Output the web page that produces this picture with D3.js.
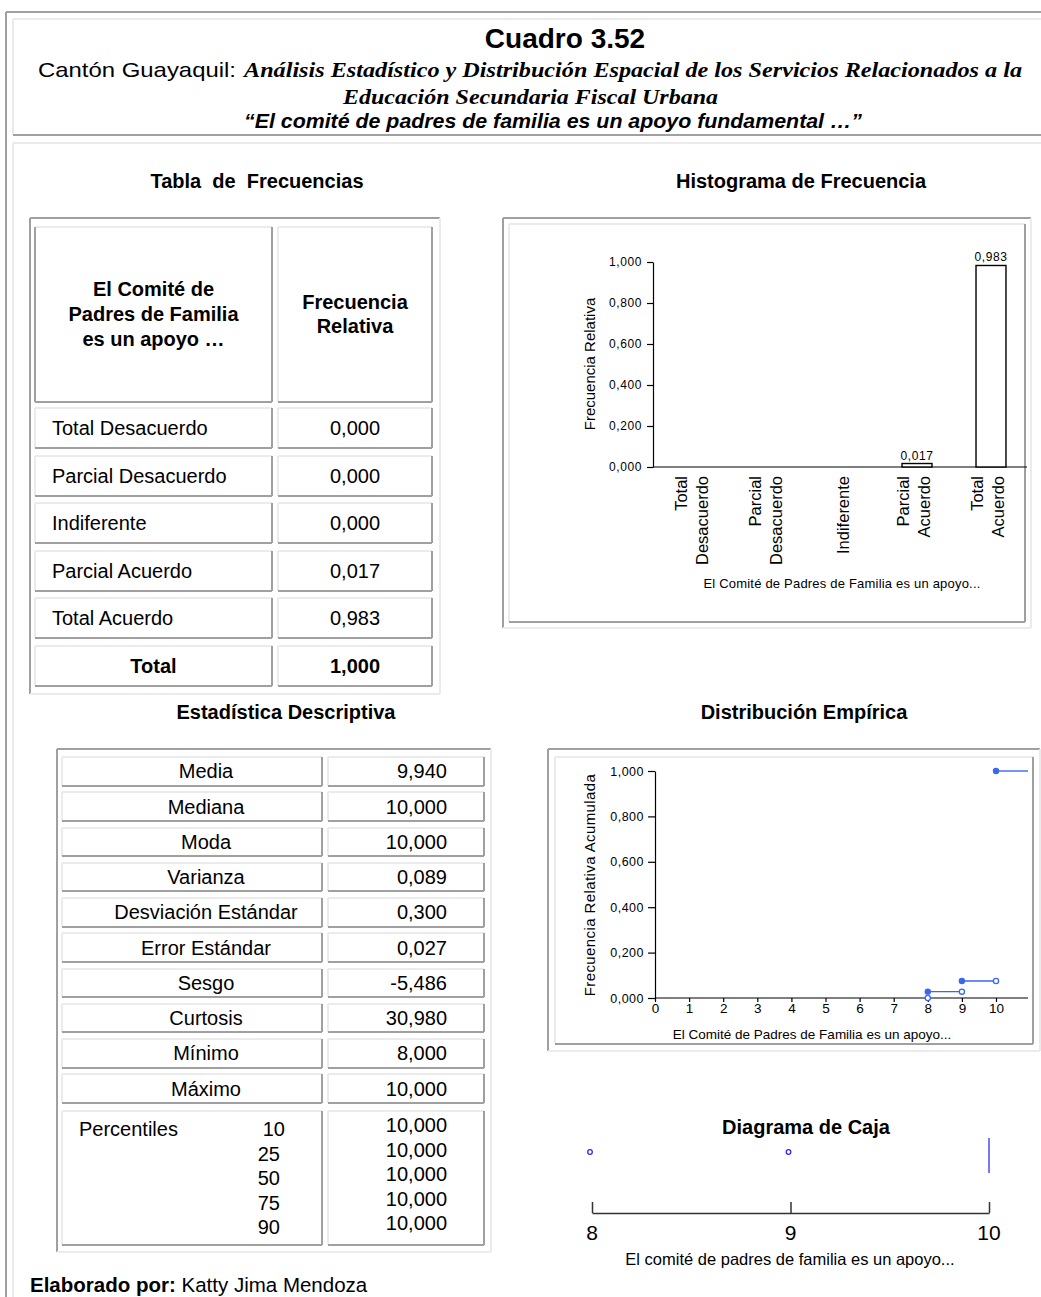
<!DOCTYPE html>
<html>
<head>
<meta charset="utf-8">
<script src="https://cdn.jsdelivr.net/npm/d3@7"></script>
<style>
  body { margin: 0; background: #fff; }
  svg { display: block; }
  text { font-family: "Liberation Sans", Arial, sans-serif; fill: #000; }
</style>
</head>
<body>
<div class="chart"></div>
<script>
// ---- data ----
const categories = ['Total Desacuerdo', 'Parcial Desacuerdo', 'Indiferente', 'Parcial Acuerdo', 'Total Acuerdo'];
const categoryLines = [['Total', 'Desacuerdo'], ['Parcial', 'Desacuerdo'], ['Indiferente'], ['Parcial', 'Acuerdo'], ['Total', 'Acuerdo']];
const relFreq = [0.000, 0.000, 0.000, 0.017, 0.983];
const relFreqTotal = 1.000;
const histTicks = [0, 0.2, 0.4, 0.6, 0.8, 1.0];

const statNames = ['Media', 'Mediana', 'Moda', 'Varianza', 'Desviación Estándar', 'Error Estándar', 'Sesgo', 'Curtosis', 'Mínimo', 'Máximo'];
const statValues = [9.940, 10.000, 10.000, 0.089, 0.300, 0.027, -5.486, 30.980, 8.000, 10.000];
const percentiles = [10, 25, 50, 75, 90];
const percentileValues = [10.000, 10.000, 10.000, 10.000, 10.000];

const ecdfX = [8, 9, 10];
const ecdfY = [0.028, 0.075, 1.000];
const ecdfTicksX = [0, 1, 2, 3, 4, 5, 6, 7, 8, 9, 10];
const ecdfTicksY = [0, 0.2, 0.4, 0.6, 0.8, 1.0];

const boxOutliers = [8, 9];
const boxQuartiles = [10, 10, 10]; // Q1, mediana, Q3
const boxTicks = [8, 9, 10];

// ---- setup ----
const W = 1041, H = 1297;
const GRAY = '#a0a0a0', LIGHT = '#ebebeb';
const BLUE = '#3a66f0';
const SERIF = '"Liberation Serif", "Times New Roman", serif';

const locale = d3.formatLocale({ decimal: ',', thousands: '.', grouping: [3], currency: ['$', ''], minus: '-' });
const fmt = locale.format('.3f');

const svg = d3.select('.chart').append('svg')
  .attr('width', W)
  .attr('height', H);

function bevel(g, x, y, w, h, tl, br, sw) {
  const b = g.append('g').attr('shape-rendering', 'crispEdges').attr('stroke-width', sw);
  b.append('line').attr('x1', x).attr('y1', y).attr('x2', x + w).attr('y2', y).attr('stroke', tl);
  b.append('line').attr('x1', x).attr('y1', y).attr('x2', x).attr('y2', y + h).attr('stroke', tl);
  b.append('line').attr('x1', x).attr('y1', y + h).attr('x2', x + w).attr('y2', y + h).attr('stroke', br);
  b.append('line').attr('x1', x + w).attr('y1', y).attr('x2', x + w).attr('y2', y + h).attr('stroke', br);
}

// ---- page frame ----
const frame = svg.append('g').attr('shape-rendering', 'crispEdges');
frame.append('line').attr('x1', 6).attr('y1', 12).attr('x2', W).attr('y2', 12).attr('stroke', GRAY).attr('stroke-width', 2);
frame.append('line').attr('x1', 6).attr('y1', 12).attr('x2', 6).attr('y2', H).attr('stroke', GRAY).attr('stroke-width', 2);
frame.append('line').attr('x1', 13).attr('y1', 19).attr('x2', W).attr('y2', 19).attr('stroke', LIGHT).attr('stroke-width', 2);
frame.append('line').attr('x1', 13).attr('y1', 19).attr('x2', 13).attr('y2', 135).attr('stroke', LIGHT).attr('stroke-width', 2);
frame.append('line').attr('x1', 13).attr('y1', 135).attr('x2', W).attr('y2', 135).attr('stroke', GRAY).attr('stroke-width', 2);
frame.append('line').attr('x1', 13).attr('y1', 143).attr('x2', W).attr('y2', 143).attr('stroke', LIGHT).attr('stroke-width', 2);
frame.append('line').attr('x1', 13).attr('y1', 143).attr('x2', 13).attr('y2', H).attr('stroke', LIGHT).attr('stroke-width', 2);

// ---- header ----
svg.append('text')
  .attr('x', 565).attr('y', 48)
  .attr('text-anchor', 'middle')
  .attr('font-size', 28).attr('font-weight', 'bold')
  .text('Cuadro 3.52');

svg.append('text')
  .attr('x', 38).attr('y', 77)
  .attr('font-size', 21)
  .attr('textLength', 198).attr('lengthAdjust', 'spacingAndGlyphs')
  .text('Cantón Guayaquil:');

svg.append('text')
  .attr('x', 244).attr('y', 77)
  .attr('font-size', 21)
  .style('font-family', SERIF)
  .attr('font-weight', 'bold').attr('font-style', 'italic')
  .attr('textLength', 778).attr('lengthAdjust', 'spacingAndGlyphs')
  .text('Análisis Estadístico y Distribución Espacial  de los Servicios Relacionados a la');

svg.append('text')
  .attr('x', 343).attr('y', 104)
  .attr('font-size', 22)
  .style('font-family', SERIF)
  .attr('font-weight', 'bold').attr('font-style', 'italic')
  .attr('textLength', 375).attr('lengthAdjust', 'spacingAndGlyphs')
  .text('Educación Secundaria Fiscal Urbana');

svg.append('text')
  .attr('x', 553).attr('y', 128)
  .attr('text-anchor', 'middle')
  .attr('font-size', 20)
  .attr('font-weight', 'bold').attr('font-style', 'italic')
  .attr('textLength', 618).attr('lengthAdjust', 'spacingAndGlyphs')
  .text('\u201CEl comité de padres de familia es un apoyo fundamental \u2026\u201D');

// ---- section titles ----
const titles = [
  { t: 'Tabla  de  Frecuencias', x: 257, y: 188 },
  { t: 'Histograma de Frecuencia', x: 801, y: 188 },
  { t: 'Estadística Descriptiva', x: 286, y: 719 },
  { t: 'Distribución Empírica', x: 804, y: 719 },
  { t: 'Diagrama de Caja', x: 806, y: 1134 }
];
svg.append('g').selectAll('text')
  .data(titles)
  .enter()
  .append('text')
  .attr('x', d => d.x).attr('y', d => d.y)
  .attr('text-anchor', 'middle')
  .attr('font-size', 20).attr('font-weight', 'bold')
  .style('white-space', 'pre')
  .text(d => d.t);

// ---- tabla de frecuencias ----
const ft = svg.append('g');
bevel(ft, 30, 218, 410, 476, GRAY, LIGHT, 2);
const col1 = { x: 35, w: 237 }, col2 = { x: 278, w: 154 };
bevel(ft, col1.x, 227, col1.w, 175, LIGHT, GRAY, 2);
bevel(ft, col2.x, 227, col2.w, 175, LIGHT, GRAY, 2);
ft.append('line').attr('x1', col1.x).attr('y1', 227).attr('x2', col1.x).attr('y2', 402)
  .attr('stroke', GRAY).attr('stroke-width', 2).attr('shape-rendering', 'crispEdges');

ft.selectAll('.h1')
  .data(['El Comité de', 'Padres de Familia', 'es un apoyo \u2026'])
  .enter().append('text')
  .attr('x', col1.x + col1.w / 2).attr('y', (d, i) => 296 + i * 25)
  .attr('text-anchor', 'middle').attr('font-size', 20).attr('font-weight', 'bold')
  .text(d => d);
ft.selectAll('.h2')
  .data(['Frecuencia', 'Relativa'])
  .enter().append('text')
  .attr('x', col2.x + col2.w / 2).attr('y', (d, i) => 309 + i * 24)
  .attr('text-anchor', 'middle').attr('font-size', 20).attr('font-weight', 'bold')
  .text(d => d);

const rowY = d3.scaleBand().domain(d3.range(categories.length + 1)).range([408, 686]).paddingInner(0.15);
const ftRows = categories.map((c, i) => ({ label: c, value: relFreq[i], total: false }))
  .concat([{ label: 'Total', value: relFreqTotal, total: true }]);

ft.selectAll('.row')
  .data(ftRows)
  .enter().append('g')
  .each(function(d, i) {
    const g = d3.select(this);
    const y = rowY(i), h = rowY.bandwidth();
    bevel(g, col1.x, y, col1.w, h, LIGHT, GRAY, 2);
    bevel(g, col2.x, y, col2.w, h, LIGHT, GRAY, 2);
    g.append('text')
      .attr('x', d.total ? col1.x + col1.w / 2 : 52)
      .attr('y', y + h / 2 + 7)
      .attr('text-anchor', d.total ? 'middle' : 'start')
      .attr('font-size', 20)
      .attr('font-weight', d.total ? 'bold' : 'normal')
      .text(d.label);
    g.append('text')
      .attr('x', col2.x + col2.w / 2)
      .attr('y', y + h / 2 + 7)
      .attr('text-anchor', 'middle')
      .attr('font-size', 20)
      .attr('font-weight', d.total ? 'bold' : 'normal')
      .text(fmt(d.value));
  });

// ---- histograma ----
const hist = svg.append('g');
bevel(hist, 503, 218, 528, 410, GRAY, LIGHT, 2);
bevel(hist, 509, 224, 516, 398, LIGHT, GRAY, 2);

const hx = d3.scaleBand().domain(categories).range([658, 1028]).paddingInner(0.595).paddingOuter(0.2975);
const hy = d3.scaleLinear().domain([0, 1]).range([467, 262]);

const hyAxis = hist.append('g')
  .attr('transform', 'translate(653,0)')
  .call(d3.axisLeft(hy).tickValues(histTicks).tickFormat(fmt).tickSize(6).tickSizeOuter(0));
hyAxis.selectAll('text').attr('font-size', 12).attr('letter-spacing', 0.6).attr('fill', '#000').attr('dx', -2);
hyAxis.selectAll('line, path').attr('stroke', '#000').attr('stroke-width', 1.2);

hist.append('line')
  .attr('x1', 653).attr('x2', 1027)
  .attr('y1', hy(0)).attr('y2', hy(0))
  .attr('stroke', '#000').attr('stroke-width', 1.2);

const bars = categories.map((c, i) => ({ c, v: relFreq[i] })).filter(d => d.v > 0);
hist.selectAll('.bar')
  .data(bars)
  .enter().append('rect')
  .attr('x', d => hx(d.c))
  .attr('y', d => hy(d.v))
  .attr('width', hx.bandwidth())
  .attr('height', d => hy(0) - hy(d.v))
  .attr('fill', '#fff')
  .attr('stroke', '#000')
  .attr('stroke-width', 1.4);

hist.selectAll('.barlabel')
  .data(bars)
  .enter().append('text')
  .attr('x', d => hx(d.c) + hx.bandwidth() / 2)
  .attr('y', d => hy(d.v) - 4)
  .attr('text-anchor', 'middle')
  .attr('font-size', 12).attr('letter-spacing', 0.6)
  .text(d => fmt(d.v));

hist.selectAll('.cat')
  .data(categories)
  .enter().append('g')
  .attr('transform', d => `translate(${hx(d) + hx.bandwidth() / 2},476)`)
  .each(function(d, i) {
    const lines = categoryLines[i];
    const g = d3.select(this);
    lines.forEach((ln, j) => {
      const off = lines.length === 1 ? 6 : (j === 0 ? -8 : 13);
      g.append('text')
        .attr('transform', `translate(${off},0) rotate(-90)`)
        .attr('text-anchor', 'end')
        .attr('font-size', 16.5)
        .text(ln);
    });
  });

hist.append('text')
  .attr('transform', 'translate(595,364) rotate(-90)')
  .attr('text-anchor', 'middle')
  .attr('font-size', 15)
  .text('Frecuencia Relativa');

hist.append('text')
  .attr('x', 842).attr('y', 588)
  .attr('text-anchor', 'middle')
  .attr('font-size', 13).attr('letter-spacing', 0.2)
  .text('El Comité de Padres de Familia es un apoyo...');

// ---- estadistica descriptiva ----
const st = svg.append('g');
bevel(st, 57, 749, 434, 503, GRAY, LIGHT, 2);
const sc1 = { x: 62, w: 260 }, sc2 = { x: 328, w: 156 };
const stY = d3.scaleBand().domain(d3.range(statNames.length)).range([757, 1103]).paddingInner(0.19);

st.selectAll('.srow')
  .data(statNames)
  .enter().append('g')
  .each(function(d, i) {
    const g = d3.select(this);
    const y = stY(i), h = stY.bandwidth();
    bevel(g, sc1.x, y, sc1.w, h, LIGHT, GRAY, 2);
    bevel(g, sc2.x, y, sc2.w, h, LIGHT, GRAY, 2);
    g.append('text')
      .attr('x', 206).attr('y', y + h / 2 + 7)
      .attr('text-anchor', 'middle').attr('font-size', 20)
      .text(d);
    g.append('text')
      .attr('x', 447).attr('y', y + h / 2 + 7)
      .attr('text-anchor', 'end').attr('font-size', 20)
      .text(fmt(statValues[i]));
  });

bevel(st, sc1.x, 1111, sc1.w, 134, LIGHT, GRAY, 2);
bevel(st, sc2.x, 1111, sc2.w, 134, LIGHT, GRAY, 2);
st.append('text')
  .attr('x', 79).attr('y', 1136)
  .attr('font-size', 20)
  .text('Percentiles');
st.selectAll('.pct')
  .data(percentiles)
  .enter().append('text')
  .attr('x', (d, i) => i === 0 ? 285 : 280)
  .attr('y', (d, i) => 1136 + i * 24.5)
  .attr('text-anchor', 'end').attr('font-size', 20)
  .text(d => d);
st.selectAll('.pctv')
  .data(percentileValues)
  .enter().append('text')
  .attr('x', 447)
  .attr('y', (d, i) => 1132 + i * 24.5)
  .attr('text-anchor', 'end').attr('font-size', 20)
  .text(d => fmt(d));

// ---- distribucion empirica ----
const ec = svg.append('g');
bevel(ec, 548, 749, 492, 302, GRAY, LIGHT, 2);
bevel(ec, 555, 757, 478, 287, LIGHT, GRAY, 2);

const ex = d3.scaleLinear().domain([0, 10]).range([655, 996]);
const ey = d3.scaleLinear().domain([0, 1]).range([998, 771]);

const eyAxis = ec.append('g')
  .attr('transform', 'translate(655,0)')
  .call(d3.axisLeft(ey).tickValues(ecdfTicksY).tickFormat(fmt).tickSize(7).tickSizeOuter(0));
eyAxis.selectAll('text').attr('font-size', 12.5).attr('letter-spacing', 0.5).attr('fill', '#000').attr('dx', -1);
eyAxis.selectAll('line, path').attr('stroke', '#000').attr('stroke-width', 1.2);

const exAxis = ec.append('g')
  .attr('transform', `translate(0,${ey(0)})`)
  .call(d3.axisBottom(ex).tickValues(ecdfTicksX).tickFormat(d3.format('d')).tickSize(4).tickSizeOuter(0));
exAxis.select('.domain').remove();
exAxis.selectAll('text').attr('font-size', 13.5).attr('fill', '#000').attr('dy', '0.6em');
exAxis.selectAll('line').attr('stroke', '#000').attr('stroke-width', 1.2);
ec.append('line')
  .attr('x1', 655).attr('x2', 1028)
  .attr('y1', ey(0)).attr('y2', ey(0))
  .attr('stroke', '#000').attr('stroke-width', 1.2);

const steps = ecdfX.map((x, i) => ({
  x0: x,
  x1: i < ecdfX.length - 1 ? ecdfX[i + 1] : null,
  y: ecdfY[i],
  yPrev: i === 0 ? 0 : ecdfY[i - 1]
}));

ec.selectAll('.seg')
  .data(steps)
  .enter().append('line')
  .attr('x1', d => ex(d.x0))
  .attr('x2', d => d.x1 === null ? 1028 : ex(d.x1))
  .attr('y1', d => ey(d.y)).attr('y2', d => ey(d.y))
  .attr('stroke', BLUE).attr('stroke-width', 1.4);

// open circles: left limit at each jump
ec.selectAll('.open')
  .data(steps.filter((d, i) => i === 0).map(d => ({ x: d.x0, y: d.yPrev }))
    .concat(steps.filter(d => d.x1 !== null).map(d => ({ x: d.x1, y: d.y }))))
  .enter().append('circle')
  .attr('cx', d => ex(d.x)).attr('cy', d => ey(d.y))
  .attr('r', 2.6)
  .attr('fill', '#fff').attr('stroke', BLUE).attr('stroke-width', 1.3);

ec.selectAll('.filled')
  .data(steps)
  .enter().append('circle')
  .attr('cx', d => ex(d.x0)).attr('cy', d => ey(d.y))
  .attr('r', 3.2)
  .attr('fill', BLUE);

ec.append('text')
  .attr('transform', 'translate(595,885) rotate(-90)')
  .attr('text-anchor', 'middle')
  .attr('font-size', 15).attr('letter-spacing', 0.4)
  .text('Frecuencia Relativa Acumulada');

ec.append('text')
  .attr('x', 812).attr('y', 1039)
  .attr('text-anchor', 'middle')
  .attr('font-size', 13.5)
  .text('El Comité de Padres de Familia es un apoyo...');

// ---- diagrama de caja ----
const bx = d3.scaleLinear().domain([8, 10]).range([592, 989]);
const bp = svg.append('g');

const bAxis = bp.append('g')
  .attr('transform', 'translate(0,1213)')
  .call(d3.axisTop(bx).tickValues(boxTicks).tickFormat(d3.format('d')).tickSize(11).tickSizeOuter(0));
bAxis.selectAll('text').remove();
bAxis.selectAll('line, path').attr('stroke', '#333').attr('stroke-width', 1.5);

bp.selectAll('.btick')
  .data(boxTicks)
  .enter().append('text')
  .attr('x', d => bx(d)).attr('y', 1240)
  .attr('text-anchor', 'middle')
  .attr('font-size', 21).attr('fill', '#333')
  .text(d => d);

bp.append('text')
  .attr('x', 790).attr('y', 1265)
  .attr('text-anchor', 'middle')
  .attr('font-size', 16.5).attr('fill', '#222')
  .text('El comité de padres de familia es un apoyo...');

bp.selectAll('.outlier')
  .data(boxOutliers)
  .enter().append('circle')
  .attr('cx', d => bx(d) - 2).attr('cy', 1152)
  .attr('r', 2.3)
  .attr('fill', 'none').attr('stroke', '#2b2bf0').attr('stroke-width', 1.3);

// caja degenerada: Q1 = mediana = Q3
bp.selectAll('.box')
  .data([boxQuartiles])
  .enter().append('line')
  .attr('x1', d => bx(d[1])).attr('x2', d => bx(d[1]))
  .attr('y1', 1138).attr('y2', 1173)
  .attr('stroke', '#4b4bf5').attr('stroke-width', 1.5);

// ---- pie ----
const foot = svg.append('text')
  .attr('x', 30).attr('y', 1292)
  .attr('font-size', 20.5);
foot.append('tspan').attr('font-weight', 'bold').text('Elaborado por:');
foot.append('tspan').text(' Katty Jima Mendoza');
</script>
</body>
</html>
